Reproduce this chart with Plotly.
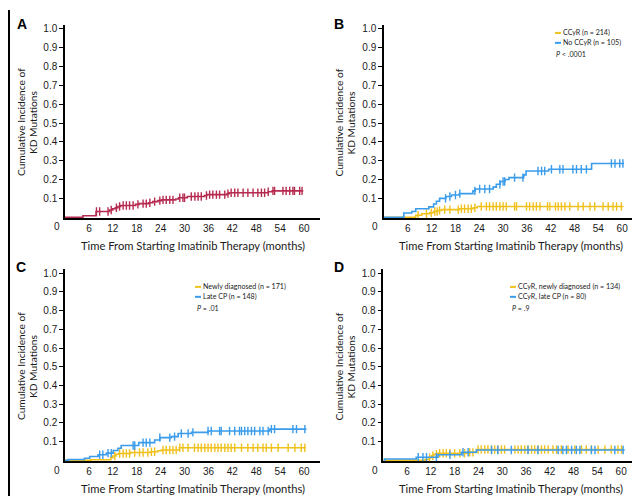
import numpy as np
import plotly.graph_objects as go

# ---------------- data ----------------
x_ticks = [6, 12, 18, 24, 30, 36, 42, 48, 54, 60]
y_ticks = [0.1, 0.2, 0.3, 0.4, 0.5, 0.6, 0.7, 0.8, 0.9, 1.0]
y_ticktext = ["0.1", "0.2", "0.3", "0.4", "0.5", "0.6", "0.7", "0.8", "0.9", "1.0"]

# Panel A: all patients
a_times = [0, 4.5, 7.8, 11.2, 12.0, 12.6, 13.3, 14.0, 17.7, 18.6, 21.0, 22.0, 23.3, 24.2,
           27.8, 28.5, 30.7, 35.0, 35.6, 40.7, 41.2, 51.0, 52.0]
a_values = [0, 0.008, 0.03, 0.038, 0.045, 0.05, 0.057, 0.062, 0.068, 0.072, 0.077, 0.083, 0.088,
            0.092, 0.097, 0.103, 0.11, 0.115, 0.12, 0.125, 0.13, 0.135, 0.14]
a_end = 59.8
a_censor = [7.9, 8.7, 10.8, 11.6, 12.9, 13.7, 14.6, 15.4, 16.2, 17.1, 18.3, 19.6, 20.4, 21.3,
            22.5, 23.8, 24.6, 25.4, 26.3, 27.1, 28.8, 29.6, 30.0, 31.7, 32.6, 33.4, 34.2, 35.5,
            36.3, 37.1, 38.0, 38.8, 40.1, 40.9, 41.7, 42.6, 43.4, 44.7, 45.9, 47.2, 48.4, 49.3,
            50.1, 51.0, 52.2, 52.6, 54.7, 55.5, 56.4, 57.2, 57.6, 58.9, 59.5]

# Panel B
b_ccyr_times = [0, 8.0, 9.5, 11.5, 12.5, 13.5, 14.5, 19.0, 22.5, 23.5]
b_ccyr_values = [0, 0.01, 0.018, 0.024, 0.03, 0.036, 0.04, 0.045, 0.05, 0.057]
b_ccyr_end = 60.3
b_ccyr_censor = [8.6, 10.7, 11.9, 12.8, 13.4, 14.0, 15.3, 16.6, 18.7, 19.5, 20.3, 21.2, 22.0,
                 22.9, 24.5, 25.8, 26.6, 27.5, 28.3, 29.2, 30.0, 30.8, 32.9, 33.4, 35.9, 36.7,
                 37.6, 38.4, 39.3, 41.2, 41.8, 43.2, 43.9, 44.7, 45.6, 46.8, 48.9, 50.2, 51.9,
                 53.1, 55.2, 56.5, 57.7, 58.6, 59.8]
b_noccyr_times = [0, 5.0, 7.0, 8.0, 11.3, 12.5, 13.2, 14.0, 15.6, 17.0, 19.0, 22.4, 23.0, 27.5,
                  28.3, 29.3, 30.5, 31.5, 35.2, 35.8, 41.5, 52.3]
b_noccyr_values = [0, 0.022, 0.03, 0.045, 0.055, 0.07, 0.085, 0.1, 0.11, 0.118, 0.125, 0.14,
                   0.15, 0.16, 0.175, 0.19, 0.2, 0.21, 0.225, 0.245, 0.255, 0.285]
b_noccyr_end = 60.5
b_noccyr_censor = [15.5, 16.6, 18.0, 19.1, 22.9, 24.1, 25.4, 26.6, 29.2, 30.0, 30.4, 32.9, 35.0,
                   38.8, 39.7, 40.5, 42.2, 44.3, 45.1, 47.6, 48.5, 49.7, 51.0, 57.3, 58.2, 59.4,
                   60.2]

# Panel C
c_new_times = [0, 6.5, 11.5, 12.0, 12.8, 13.5, 16.5, 21.5, 23.3, 24.2, 28.7]
c_new_values = [0, 0.004, 0.015, 0.024, 0.033, 0.037, 0.042, 0.046, 0.052, 0.056, 0.068]
c_new_end = 60.5
c_new_censor = [12.5, 13.7, 14.6, 15.4, 16.2, 17.5, 18.7, 19.6, 20.8, 21.7, 22.5, 24.6, 25.4,
                26.3, 27.1, 27.9, 28.8, 29.6, 30.9, 32.5, 33.4, 34.2, 35.1, 35.9, 36.7, 37.6,
                38.4, 39.2, 40.1, 40.9, 41.7, 42.6, 44.3, 45.9, 47.2, 48.4, 49.7, 50.5, 51.8,
                53.5, 56.0, 57.7, 59.3, 60.2]
c_late_times = [0, 0.8, 4.9, 6.2, 8.3, 10.4, 12.1, 13.3, 14.1, 18.5, 22.5, 23.8, 26.7, 28.4,
                31.7, 35.9, 51.4]
c_late_values = [0, 0.005, 0.012, 0.021, 0.03, 0.039, 0.053, 0.065, 0.08, 0.095, 0.109, 0.122,
                 0.127, 0.144, 0.15, 0.157, 0.167]
c_late_end = 60.6
c_late_censor = [8.7, 9.5, 10.8, 11.6, 17.1, 17.5, 19.6, 20.4, 21.3, 23.8, 26.3, 27.5, 29.2,
                 30.9, 32.1, 35.9, 36.7, 38.8, 39.2, 41.3, 42.6, 43.8, 44.3, 45.1, 45.9, 46.8,
                 47.6, 48.9, 49.7, 51.0, 51.8, 52.6, 57.2, 58.1, 60.2]

# Panel D
d_new_times = [0, 10.5, 11.5, 12.2, 12.8, 13.5, 21.5, 23.5]
d_new_values = [0, 0.005, 0.015, 0.025, 0.033, 0.038, 0.043, 0.058]
d_new_end = 60.5
d_new_censor = [11.7, 12.5, 13.4, 14.2, 15.1, 15.9, 16.8, 18.0, 19.3, 20.5, 21.8, 22.6, 23.9,
                24.7, 25.6, 26.4, 27.3, 28.1, 28.9, 29.8, 30.6, 33.2, 34.0, 34.8, 35.7, 36.5,
                37.4, 38.2, 39.0, 39.9, 40.7, 41.6, 42.8, 43.7, 44.9, 46.6, 48.3, 50.0, 51.2,
                52.5, 54.2, 55.9, 57.5, 59.2, 60.1]
d_late_times = [0, 0.3, 8.3, 13.8, 19.7, 23.5]
d_late_values = [0, 0.008, 0.017, 0.03, 0.044, 0.056]
d_late_end = 60.9
d_late_censor = [8.8, 10.0, 10.9, 13.4, 16.8, 20.1, 21.4, 27.3, 28.9, 32.3, 36.5, 39.0, 44.1,
                 45.3, 46.2, 47.5, 48.7, 49.6, 52.5, 53.4, 58.4, 60.5]

legend_b = ["CCyR (n = 214)", "No CCyR (n = 105)"]
legend_c = ["Newly diagnosed (n = 171)", "Late CP (n = 148)"]
legend_d = ["CCyR, newly diagnosed (n = 134)", "CCyR, late CP (n = 80)"]
p_b, p_c, p_d = "<i>P</i> &lt; .0001", "<i>P</i> = .01", "<i>P</i> = .9"
x_title = "Time From Starting Imatinib Therapy (months)"
y_title = ["Cumulative Incidence of", "KD Mutations"]
panel_letters = ["A", "B", "C", "D"]

RED = "#B62B50"
YEL = "#F0C01C"
BLU = "#3A9CEA"

W, H = 640, 496


def px(x):
    return x / W


def py(y):
    return 1 - y / H


fig = go.Figure()


def km(times, values, end, censor, color, ax):
    xs = list(times) + [end]
    ys = list(values) + [values[-1]]
    fig.add_trace(go.Scatter(x=xs, y=ys, mode="lines", line=dict(color=color, width=1.6, shape="hv"),
                             xaxis="x" + ax, yaxis="y" + ax, showlegend=False, hoverinfo="skip"))
    t = np.array(times)
    v = np.array(values)
    idx = np.searchsorted(t, np.array(censor), side="right") - 1
    fig.add_trace(go.Scatter(x=censor, y=v[idx], mode="markers",
                             marker=dict(symbol="line-ns-open", size=6, color=color,
                                         line=dict(color=color, width=1.4)),
                             xaxis="x" + ax, yaxis="y" + ax, showlegend=False, hoverinfo="skip"))


# panel geometry in pixels: (x0, x1, ybottom, ytop)
panels = {
    "": (57, 312, 208.8, 15.2),
    "2": (376, 630, 208.8, 15.2),
    "3": (57, 312, 453.0, 260.5),
    "4": (375.3, 629, 453.0, 260.5),
}

km(a_times, a_values, a_end, a_censor, RED, "")
km(b_ccyr_times, b_ccyr_values, b_ccyr_end, b_ccyr_censor, YEL, "2")
km(b_noccyr_times, b_noccyr_values, b_noccyr_end, b_noccyr_censor, BLU, "2")
km(c_new_times, c_new_values, c_new_end, c_new_censor, YEL, "3")
km(c_late_times, c_late_values, c_late_end, c_late_censor, BLU, "3")
km(d_new_times, d_new_values, d_new_end, d_new_censor, YEL, "4")
km(d_late_times, d_late_values, d_late_end, d_late_censor, BLU, "4")

SANS = "Liberation Sans, Arial, sans-serif"
TICKFONT = dict(family=SANS, size=10, color="#1a1a1a")
NARROW = "Lato, Liberation Sans, sans-serif"

layout = dict(width=W, height=H, margin=dict(l=0, r=0, t=0, b=0),
              paper_bgcolor="white", plot_bgcolor="white", showlegend=False)
for ax, (x0, x1, yb, yt) in panels.items():
    layout["xaxis" + ax] = dict(domain=[px(x0), px(x1)], range=[0, 64], anchor="y" + ax,
                                tickvals=x_ticks, ticks="", showline=True, linecolor="black",
                                linewidth=1.5, showgrid=False, zeroline=False, tickfont=TICKFONT,
                                layer="below traces", fixedrange=True)
    layout["yaxis" + ax] = dict(domain=[py(yb), py(yt)], range=[-0.004, 1.02], anchor="x" + ax,
                                tickvals=y_ticks, ticktext=y_ticktext, ticks="outside", ticklen=4,
                                tickwidth=1.2, tickcolor="black", showline=True, linecolor="black",
                                linewidth=1.5, showgrid=False, zeroline=False, tickfont=TICKFONT,
                                layer="below traces", fixedrange=True)
fig.update_layout(**layout)

ann = []


def text(x, y, s, size=10, xanchor="center", yanchor="middle", family=SANS,
         angle=0, color="#1a1a1a"):
    ann.append(dict(x=px(x), y=py(y), xref="paper", yref="paper", text=s, showarrow=False,
                    xanchor=xanchor, yanchor=yanchor, textangle=angle, borderpad=0,
                    font=dict(family=family, size=size, color=color)))


# panel letters
for letter, (lx, ly) in zip(panel_letters, [(13.5, 14), (331, 14), (13, 258), (331, 258)]):
    text(lx, ly, "<b>" + letter + "</b>", size=14, color="black")

# origin zero labels
for zx, zy in [(49, 217), (367, 217), (49, 462), (367, 462)]:
    text(zx, zy, "0", size=10)

# axis titles
for cx, cy in [(184.5, 236), (502.5, 236), (184.5, 480), (502.5, 480)]:
    text(cx, cy, x_title, size=11.2, family=NARROW)
for lx, cy in [(12.5, 113), (331, 113), (12.5, 358), (331, 358)]:
    text(lx, cy, y_title[0], size=10.2, family=NARROW, angle=-90)
    text(lx + 12, cy, y_title[1], size=10.2, family=NARROW, angle=-90)

# legends
shapes = []


def legend(x0, y0, labels, colors, ptext, px_off):
    for i, (lab, col) in enumerate(zip(labels, colors)):
        yy = y0 + i * 10
        shapes.append(dict(type="line", xref="paper", yref="paper", x0=px(x0), x1=px(x0 + 6),
                           y0=py(yy), y1=py(yy), line=dict(color=col, width=2)))
        text(x0 + 7, yy, lab, size=7.1, xanchor="left", family=NARROW)
    text(x0 + px_off, y0 + 22, ptext, size=7.1, xanchor="left", family=NARROW)


legend(547, 23, legend_b, [YEL, BLU], p_b, 0)
legend(187, 278, legend_c, [YEL, BLU], p_c, 1)
legend(502, 278, legend_d, [YEL, BLU], p_d, 1)

# outer frame (left and bottom edges)
shapes.append(dict(type="line", xref="paper", yref="paper", x0=px(1), x1=px(1), y0=0, y1=1,
                   line=dict(color="black", width=2)))
shapes.append(dict(type="line", xref="paper", yref="paper", x0=0, x1=1, y0=py(494.5), y1=py(494.5),
                   line=dict(color="black", width=3)))

fig.update_layout(annotations=ann, shapes=shapes)
fig.write_html("out.html")
